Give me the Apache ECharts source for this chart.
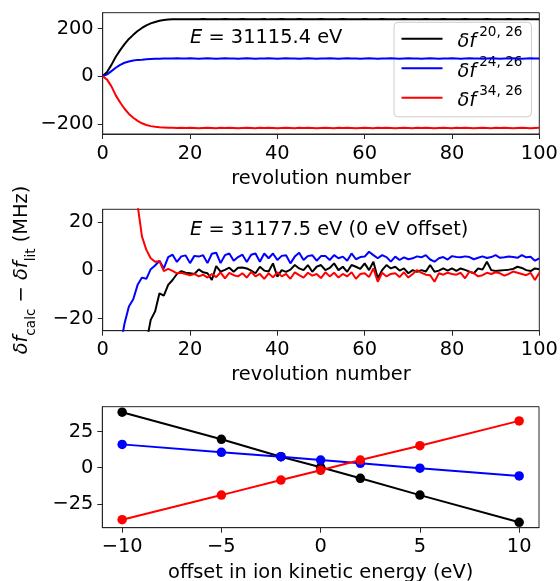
<!DOCTYPE html>
<html>
<head>
<meta charset="utf-8">
<script src="https://cdn.jsdelivr.net/npm/echarts@6/dist/echarts.min.js"></script>
<style>
html,body{margin:0;padding:0;background:#fff;}
#chart{width:560px;height:581px;}
</style>
</head>
<body>
<div id="chart"></div>
<script>
// ---------- Panel 1: E = 31115.4 eV (revolution 0..100) ----------
const black1 = [0,18,48,82,110,135,157,174,190,203,214,222,228,233,236,238,239,240,240,239,
  240,239,240,241,240,239,240,240,241,240,239,240,241,240,239,240,240,241,239,240,
  240,241,240,239,240,241,240,240,239,240,241,240,240,239,240,241,240,239,240,240,
  241,240,239,240,241,240,240,239,240,241,240,239,240,240,241,240,239,240,241,240,
  240,239,240,241,240,240,239,240,241,240,239,240,240,241,240,239,240,241,240,240,240];
const blue1 = [0,8,22,36,48,57,62,66,69,70,72,73,74,74,75,75,75,76,75,75,
  76,75,74,75,76,75,74,75,76,75,75,74,75,76,75,74,75,75,76,75,
  74,75,76,75,75,74,75,76,75,74,75,75,76,75,74,75,76,75,75,74,
  75,76,75,74,75,75,76,75,74,75,76,75,75,74,75,76,75,74,75,75,
  76,75,74,75,76,75,75,74,75,76,75,74,75,75,76,75,74,75,76,75,75];
const red1 = [0,-14,-42,-80,-110,-136,-158,-174,-187,-197,-204,-209,-212,-214,-215,-216,-216,-217,-216,-217,
  -216,-217,-218,-217,-216,-217,-218,-216,-217,-216,-217,-218,-217,-216,-217,-218,-216,-217,-216,-217,
  -218,-217,-216,-217,-218,-216,-217,-216,-217,-218,-217,-216,-217,-218,-216,-217,-216,-217,-218,-217,
  -216,-217,-218,-216,-217,-216,-217,-218,-217,-216,-217,-218,-216,-217,-216,-217,-218,-217,-216,-217,
  -218,-216,-217,-216,-217,-218,-217,-216,-217,-218,-216,-217,-216,-217,-218,-217,-216,-217,-218,-217,-216];

// ---------- Panel 2: E = 31177.5 eV (0 eV offset) ----------
const black2 = [-240,-200,-160,-125,-95,-72,-56,-45,-38,-33,-30,-20.5,-17,-9.5,-10.5,-6,-4,-1.5,-0.3,-1,
  -1.2,-1.5,0.4,-0.8,-1.2,-4,1.8,-0.5,0.2,1.1,-0.6,1.1,1.2,0.8,-0.1,-1.2,1.5,-0.1,-0.5,2.9,
  -2.6,0.1,-0.6,0.3,2.2,0.8,0.1,2.2,-0.6,1.5,2.2,0.1,1.0,2.9,0.1,1.5,-0.6,2.2,1.5,0.6,
  2.9,0.1,3.6,-3.3,0.1,2.2,0.8,1.5,-0.1,0.8,-1.2,0.1,-0.6,0.1,-0.5,2.2,-0.6,-0.1,0.8,-0.1,
  0.8,-0.2,0.8,0.2,-0.5,-1.2,0.8,0.3,3.6,0.1,-0.3,-0.1,0.1,0.3,0.6,1.5,1.0,0.1,-0.3,0.8,0.5];
const blue2 = [-90,-70,-55,-42,-32,-22,-15,-12,-6,-3,-3.5,0.5,2,4,0.8,5.5,6.5,3.5,5.8,6.2,
  3,6,5.7,6.3,3,6.9,7.3,3,6.3,7,4,5.5,6.5,3.5,6.5,7,3.6,7,5,7,
  4.3,6,6.3,2.9,5.7,7.3,4.3,5.9,6.3,4,5.9,6,4.3,6.3,5,5.7,4,7,4.6,5.5,
  5.7,7.7,6.3,5,6.3,5.5,3.6,5.7,4.3,5.4,4.6,5,5.8,5.4,6.3,4.5,3.6,5,5.5,4.5,
  5.9,5.5,5.4,5.8,5.5,4.6,5.2,5.8,5.1,5.5,6.3,5.2,5.4,5.7,5.5,5.2,6.3,5.4,5.6,4,5];
const red2 = [220,180,140,105,78,58,44,34,27,14,8.5,5,3.6,3.8,-0.3,0.6,-0.2,-1.2,-1.0,-1.5,
  -2.0,-1.5,-2.5,-1.8,-3.0,-1.5,-2.8,-0.8,-3.3,-1.0,-2.0,-2.5,-1.2,-3.0,-0.6,-2.5,-1.5,-3.5,-1.2,-2.9,
  -0.8,-2.5,-1.5,-3.5,-0.8,-2.0,-3.0,-1.0,-2.2,-1.5,-3.2,-0.8,-2.5,-1.0,-3.0,-1.5,-2.5,-0.8,-3.5,-1.5,
  -1.2,-2.8,0.8,-4.7,-1.0,-2.5,-1.5,-1.2,-2.8,-0.8,-3.0,-1.5,0.1,-1.0,-1.8,-2.0,-4.7,-1.2,-1.8,-1.0,
  -1.5,-1.8,-1.0,-3.3,-0.5,-1.2,-2.5,-2.0,-1.0,-1.5,-0.8,-1.2,-2.2,-1.5,-0.5,-1.0,-1.5,-2.0,-1.0,-4.0,-1.0];

// ---------- Panel 3: offset in ion kinetic energy ----------
const offsets = [-10,-5,-2,0,2,5,10];
const black3 = [38.3,19.6,7.6,0.3,-7.3,-18.9,-37.7];
const blue3  = [16.1,10.6,7.6,5.3,3.0,-0.3,-5.7];
const red3   = [-35.9,-18.9,-8.5,-1.8,5.3,15.2,32.3];

const ticks1x = [0,20,40,60,80,100];
const ticks1y = [-200,0,200];
const ticks2y = [-20,0,20];
const ticks3y = [-25,0,25];
const ticks3x = [-10,-5,0,5,10];

const legendNames = {df20:'20, 26', df24:'24, 26', df34:'34, 26'};

const FONT = 'DejaVu Sans';
const FS = 19.4;
const frame = '#262626';
const minus = v => String(v).replace('-', '\u2212');

function xAxis(gi, min, max, ticks, name, gap){
  return {
    type:'value', gridIndex:gi, min:min, max:max,
    name:name, nameLocation:'middle', nameGap:gap,
    nameTextStyle:{fontFamily:FONT, fontSize:FS, color:'#000'},
    axisLine:{show:true, onZero:false, lineStyle:{color:frame, width:1}},
    axisTick:{show:true, length:5, lineStyle:{color:frame, width:1}, customValues:ticks},
    axisLabel:{fontFamily:FONT, fontSize:FS, color:'#000', margin:10, formatter:minus, customValues:ticks},
    splitLine:{show:false}
  };
}
function yAxis(gi, min, max, ticks){
  return {
    type:'value', gridIndex:gi, min:min, max:max,
    axisLine:{show:true, onZero:false, lineStyle:{color:frame, width:1}},
    axisTick:{show:true, length:5, lineStyle:{color:frame, width:1}, customValues:ticks},
    axisLabel:{fontFamily:FONT, fontSize:FS, color:'#000', margin:9, formatter:minus, customValues:ticks},
    splitLine:{show:false}
  };
}
function line(name, gi, xs, ys, color, z, marker){
  return {
    name:name, type:'line', xAxisIndex:gi, yAxisIndex:gi,
    data: ys.map((v,i)=>[xs ? xs[i] : i, v]),
    symbol: marker ? 'circle' : 'none', symbolSize: 9.5, showSymbol: !!marker,
    lineStyle:{color:color, width:2}, itemStyle:{color:color},
    clip:true, z:z, animation:false, silent:true
  };
}

const chart = echarts.init(document.getElementById('chart'), null, {renderer:'canvas'});
chart.setOption({
  animation:false,
  backgroundColor:'#fff',
  grid:[
    {left:102.7, top:12.7, width:436.6, height:121.3, show:true, borderColor:frame, borderWidth:1, containLabel:false, outerBoundsMode:'none'},
    {left:102.7, top:209.3, width:436.6, height:121.4, show:true, borderColor:frame, borderWidth:1, containLabel:false, outerBoundsMode:'none'},
    {left:102.3, top:406.7, width:436.7, height:121, show:true, borderColor:frame, borderWidth:1, containLabel:false, outerBoundsMode:'none'}
  ],
  xAxis:[
    xAxis(0, 0, 100, ticks1x, 'revolution number', 35),
    xAxis(1, 0, 100, ticks1x, 'revolution number', 35),
    xAxis(2, -11, 11, ticks3x, 'offset in ion kinetic energy (eV)', 35.5)
  ],
  yAxis:[
    yAxis(0, -242, 267, ticks1y),
    yAxis(1, -25, 25.3, ticks2y),
    yAxis(2, -41.4, 42.1, ticks3y)
  ],
  legend:{
    data:['df20','df24','df34'],
    orient:'vertical', left:394, top:22.3,
    icon:'rect', itemWidth:41, itemHeight:2, itemGap:3.5,
    padding:[3.5,9,6,7.5],
    backgroundColor:'rgba(255,255,255,0.8)', borderColor:'#cccccc', borderWidth:1, borderRadius:4,
    selectedMode:false,
    formatter: n => '{i|\u03b4f}{s|' + legendNames[n] + '}',
    textStyle:{
      padding:[0,0,0,10],
      rich:{
        i:{fontFamily:FONT, fontSize:FS, fontStyle:'italic', color:'#000', lineHeight:26, verticalAlign:'bottom'},
        s:{fontFamily:FONT, fontSize:13.6, color:'#000', lineHeight:14, verticalAlign:'top', padding:[0,0,0,3]}
      }
    }
  },
  graphic:[
    {type:'text', x:190, y:38, style:{
      text:'{i|E}{n| = 31115.4 eV}', verticalAlign:'middle', align:'left',
      rich:{i:{fontFamily:FONT, fontSize:FS, fontStyle:'italic', fill:'#000'}, n:{fontFamily:FONT, fontSize:FS, fill:'#000'}}
    }, z:10},
    {type:'text', x:190, y:230, style:{
      text:'{i|E}{n| = 31177.5 eV (0 eV offset)}', verticalAlign:'middle', align:'left',
      rich:{i:{fontFamily:FONT, fontSize:FS, fontStyle:'italic', fill:'#000'}, n:{fontFamily:FONT, fontSize:FS, fill:'#000'}}
    }, z:10},
    {type:'text', x:25, y:270, rotation:Math.PI/2, style:{
      text:'{i|\u03b4f}{b|calc}{n| \u2212 }{i|\u03b4f}{b|lit}{n| (MHz)}', verticalAlign:'middle', align:'center',
      rich:{
        i:{fontFamily:FONT, fontSize:FS, fontStyle:'italic', fill:'#000', lineHeight:26, verticalAlign:'top'},
        n:{fontFamily:FONT, fontSize:FS, fill:'#000', lineHeight:26, verticalAlign:'top'},
        b:{fontFamily:FONT, fontSize:13.6, fill:'#000', lineHeight:14, verticalAlign:'bottom'}
      }
    }, z:10}
  ],
  series:[
    line('df20', 0, null, black1, '#000000', 3),
    line('df24', 0, null, blue1, '#0000ff', 4),
    line('df34', 0, null, red1, '#ff0000', 5),
    line('b2', 1, null, black2, '#000000', 3),
    line('u2', 1, null, blue2, '#0000ff', 4),
    line('r2', 1, null, red2, '#ff0000', 5),
    line('b3', 2, offsets, black3, '#000000', 3, true),
    line('u3', 2, offsets, blue3, '#0000ff', 4, true),
    line('r3', 2, offsets, red3, '#ff0000', 5, true)
  ]
});
</script>
</body>
</html>
